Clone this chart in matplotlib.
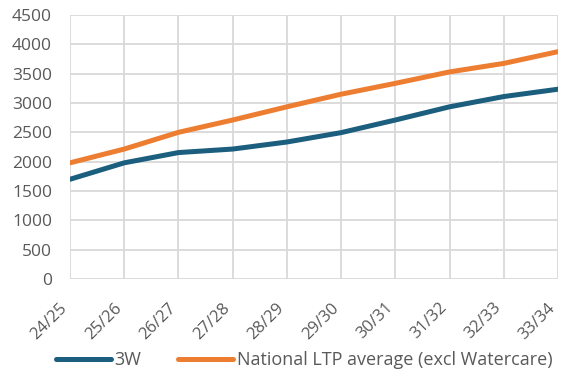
import matplotlib
matplotlib.use("Agg")
import matplotlib.pyplot as plt
import matplotlib.transforms as mtransforms
import numpy as np

categories = ["24/25", "25/26", "26/27", "27/28", "28/29", "29/30", "30/31", "31/32", "32/33", "33/34"]
series_3w = [1700, 1980, 2155, 2215, 2335, 2495, 2710, 2935, 3110, 3235]
series_ltp = [1980, 2215, 2500, 2710, 2935, 3150, 3335, 3530, 3675, 3875]
yticks = [0, 500, 1000, 1500, 2000, 2500, 3000, 3500, 4000, 4500]

plt.rcParams['font.family'] = ['Open Sans', 'DejaVu Sans']

fig = plt.figure(figsize=(5.62, 3.71), dpi=100)
ax = fig.add_axes([70/562, 1-279/371, (558-70)/562, (279-15)/371])

x = np.arange(len(categories))
ax.plot(x, series_3w, color="#1b5e7e", lw=3.6, label="3W", solid_capstyle='round', zorder=3)
ax.plot(x, series_ltp, color="#ed7d31", lw=3.6, label="National LTP average (excl Watercare)", solid_capstyle='round', zorder=3)

ax.set_xlim(0, len(categories)-1)
ax.set_ylim(0, 4500)
ax.set_yticks(yticks)
ax.set_xticks(x)
ax.grid(True, color="#d9d9d9", lw=1.3)
ax.set_axisbelow(True)
for s in ax.spines.values():
    s.set_visible(False)
ax.tick_params(axis='y', length=0, labelsize=12.5, colors="#595959", pad=13)
ax.tick_params(axis='x', length=0, labelsize=12, colors="#595959", pad=19)
ax.set_xticklabels(categories, rotation=45, ha='right', va='center', rotation_mode='anchor')
off = mtransforms.ScaledTranslation(-5/100, 0, fig.dpi_scale_trans)
for lab in ax.xaxis.get_majorticklabels():
    lab.set_transform(lab.get_transform() + off)

leg = ax.legend(loc='center', bbox_to_anchor=(304/562, 1-360/371), bbox_transform=fig.transFigure,
          ncol=2, frameon=False, fontsize=13, labelcolor="#595959", handlelength=3.05,
          columnspacing=2.05, handletextpad=0.2)

fig.savefig("out.png", dpi=100)
